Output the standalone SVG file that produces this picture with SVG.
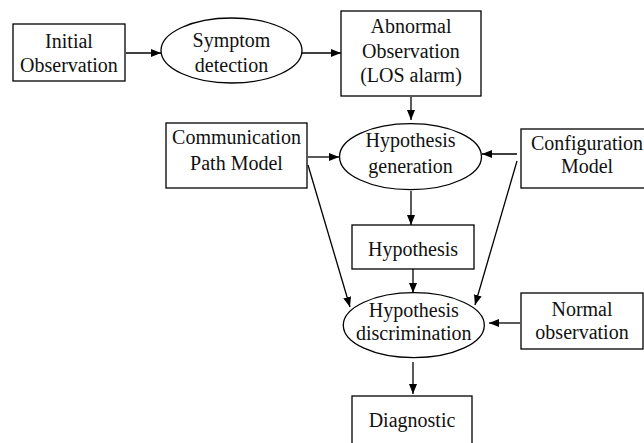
<svg xmlns="http://www.w3.org/2000/svg" width="644" height="443" viewBox="0 0 644 443">
<style>
.n{fill:#fff;stroke:#000;stroke-width:1.3}
.t{font-family:"Liberation Serif","Times New Roman",serif;font-size:20px;fill:#111;text-anchor:middle}
.c{stroke:#000;stroke-width:1.3;fill:none}
</style>
<defs>
<marker id="a" markerWidth="10" markerHeight="8" refX="10" refY="4" orient="auto" markerUnits="userSpaceOnUse">
<path d="M0,0 L10,4 L0,8 Z" fill="#000"/>
</marker>
</defs>
<rect width="644" height="443" fill="#fff"/>
<g id="connectors">
<line class="c" x1="126" y1="53" x2="161" y2="53" marker-end="url(#a)"/>
<line class="c" x1="302" y1="53" x2="341" y2="53" marker-end="url(#a)"/>
<line class="c" x1="411" y1="97" x2="411" y2="120" marker-end="url(#a)"/>
<line class="c" x1="308" y1="157" x2="339" y2="157" marker-end="url(#a)"/>
<line class="c" x1="517" y1="154" x2="482" y2="154" marker-end="url(#a)"/>
<line class="c" x1="411" y1="191" x2="411" y2="225" marker-end="url(#a)"/>
<line class="c" x1="308" y1="165" x2="350" y2="307" marker-end="url(#a)"/>
<line class="c" x1="517" y1="161" x2="475" y2="305" marker-end="url(#a)"/>
<line class="c" x1="413" y1="269" x2="413" y2="293" marker-end="url(#a)"/>
<line class="c" x1="520" y1="323" x2="489" y2="323" marker-end="url(#a)"/>
<line class="c" x1="413" y1="362" x2="413" y2="394" marker-end="url(#a)"/>
</g>
<g id="initial">
<rect class="n" x="13" y="24" width="112" height="57"/>
<text class="t" x="69" y="48">Initial</text>
<text class="t" x="69" y="72">Observation</text>
</g>
<g id="symptom">
<ellipse class="n" cx="231.5" cy="50.5" rx="70.5" ry="32.5"/>
<text class="t" x="231.5" y="47">Symptom</text>
<text class="t" x="231.5" y="72">detection</text>
</g>
<g id="abnormal">
<rect class="n" x="341" y="11" width="140" height="85"/>
<text class="t" x="411" y="33">Abnormal</text>
<text class="t" x="411" y="58">Observation</text>
<text class="t" x="411" y="82">(LOS alarm)</text>
</g>
<g id="commpath">
<rect class="n" x="166" y="123" width="141" height="65"/>
<text class="t" x="236.5" y="144">Communication</text>
<text class="t" x="236.5" y="170">Path Model</text>
</g>
<g id="hypgen">
<ellipse class="n" cx="410.5" cy="156.7" rx="71" ry="33"/>
<text class="t" x="410.5" y="147">Hypothesis</text>
<text class="t" x="410.5" y="173">generation</text>
</g>
<g id="config">
<rect class="n" x="521" y="129" width="132" height="59"/>
<text class="t" x="587" y="150">Configuration</text>
<text class="t" x="587" y="173">Model</text>
</g>
<g id="hypothesis">
<rect class="n" x="352" y="225" width="122" height="44"/>
<text class="t" x="413" y="256">Hypothesis</text>
</g>
<g id="hypdisc">
<ellipse class="n" cx="413.8" cy="325.2" rx="70.5" ry="32.5"/>
<text class="t" x="413.8" y="317">Hypothesis</text>
<text class="t" x="413.8" y="340">discrimination</text>
</g>
<g id="normal">
<rect class="n" x="521" y="293" width="122" height="56"/>
<text class="t" x="582" y="316">Normal</text>
<text class="t" x="582" y="339">observation</text>
</g>
<g id="diagnostic">
<rect class="n" x="352" y="396" width="120" height="55"/>
<text class="t" x="412" y="427">Diagnostic</text>
</g>
</svg>
